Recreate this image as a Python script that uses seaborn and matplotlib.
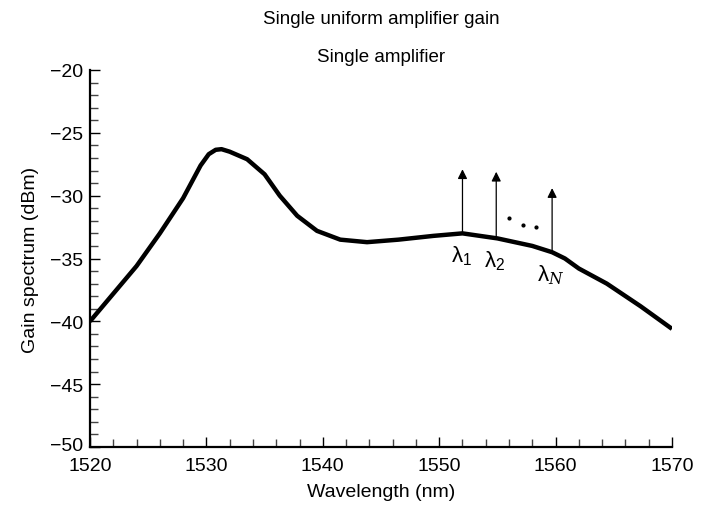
import matplotlib
matplotlib.use("Agg")
import matplotlib.pyplot as plt
import seaborn as sns
import pandas as pd
from matplotlib.ticker import MultipleLocator
from matplotlib.transforms import offset_copy

# Data
wavelength = [1520, 1522, 1524, 1526, 1528, 1529.5, 1530.2, 1530.8, 1531.3, 1532, 1533.5, 1535,
              1536.3, 1537.8, 1539.5, 1541.5, 1543.8, 1546.5, 1549.5, 1552, 1555,
              1558, 1559.7, 1560.8, 1562, 1564.4, 1567.3, 1570]
gain = [-40.0, -37.8, -35.6, -33.0, -30.2, -27.6, -26.7, -26.35, -26.3, -26.5, -27.1, -28.3,
        -30.0, -31.6, -32.8, -33.5, -33.7, -33.5, -33.2, -33.0, -33.4,
        -34.0, -34.5, -35.0, -35.8, -37.0, -38.8, -40.6]

channel_x = [1552.0, 1554.9, 1559.7]
channel_base = [-33.0, -33.4, -34.5]
channel_tip = [-27.9, -28.1, -29.4]
channel_labels = [r"λ$_1$", r"λ$_2$", r"λ$_N$"]
dots_x = [1556.0, 1557.2, 1558.3]
dots_y = [-31.8, -32.3, -32.5]

xticks = [1520, 1530, 1540, 1550, 1560, 1570]
yticks = [-20, -25, -30, -35, -40, -45, -50]

sns.set_theme(style="white")
plt.rcParams['font.family'] = ['Liberation Sans', 'DejaVu Sans']
plt.rcParams['mathtext.fontset'] = 'custom'
plt.rcParams['mathtext.rm'] = 'Liberation Sans'
plt.rcParams['mathtext.it'] = 'DejaVu Serif:italic'

df = pd.DataFrame({"Wavelength": wavelength, "Gain": gain})

fig = plt.figure(figsize=(7.06, 5.06), dpi=100)
ax = fig.add_axes([90/706, 1-448/506, (672-90)/706, (448-71)/506])

sns.lineplot(data=df, x="Wavelength", y="Gain", ax=ax, color="black", linewidth=3.2)
for ln in ax.lines:
    ln.set_solid_joinstyle("round")
    ln.set_solid_capstyle("butt")

for x, b, t in zip(channel_x, channel_base, channel_tip):
    ax.annotate("", xy=(x, t), xytext=(x, b),
                arrowprops=dict(arrowstyle="-|>", color="black", lw=0.9,
                                mutation_scale=14, shrinkA=0, shrinkB=0))
for x, b, lab in zip(channel_x, channel_base, channel_labels):
    ax.text(x - 0.1, b - 0.8, lab, ha="center", va="top", fontsize=16, color="black")

ax.plot(dots_x, dots_y, linestyle="none", marker="o", markersize=2.0, color="black")

ax.set_xlim(1520, 1570)
ax.set_ylim(-50, -20)
ax.set_xticks(xticks)
ax.set_yticks(yticks)
ax.set_yticklabels([f"\u2212{abs(v)}" for v in yticks])
ax.xaxis.set_minor_locator(MultipleLocator(2))
ax.yaxis.set_minor_locator(MultipleLocator(1))

for s in ["top", "right"]:
    ax.spines[s].set_visible(False)
for s in ["left", "bottom"]:
    ax.spines[s].set_color("black")
    ax.spines[s].set_linewidth(1.6)

ax.tick_params(axis="both", which="both", bottom=True, left=True, top=False, right=False)
ax.tick_params(axis="both", which="major", direction="in", length=7, width=1.0,
               color="black", labelsize=14, labelcolor="black")
ax.tick_params(axis="both", which="minor", direction="in", length=5.5, width=1.0,
               color="#444444")
ax.tick_params(axis="x", which="major", pad=7.5)
ax.tick_params(axis="y", which="major", pad=5)

# lift the bottom y label a bit, as in the reference
lab50 = ax.get_yticklabels()[-1]
lab50.set_transform(offset_copy(lab50.get_transform(), fig=fig, x=0, y=2.5, units="points"))

ax.set_xlabel("Wavelength (nm)", fontsize=14, color="black", labelpad=6)
ax.set_ylabel("Gain spectrum (dBm)", fontsize=14, color="black", labelpad=8)

fig.text(381/706, 1-20/506, "Single uniform amplifier gain", ha="center", va="center",
         fontsize=13.5, color="black")
fig.text(381/706, 1-57/506, "Single amplifier", ha="center", va="center",
         fontsize=13.5, color="black")

fig.savefig("out.png", dpi=100)
